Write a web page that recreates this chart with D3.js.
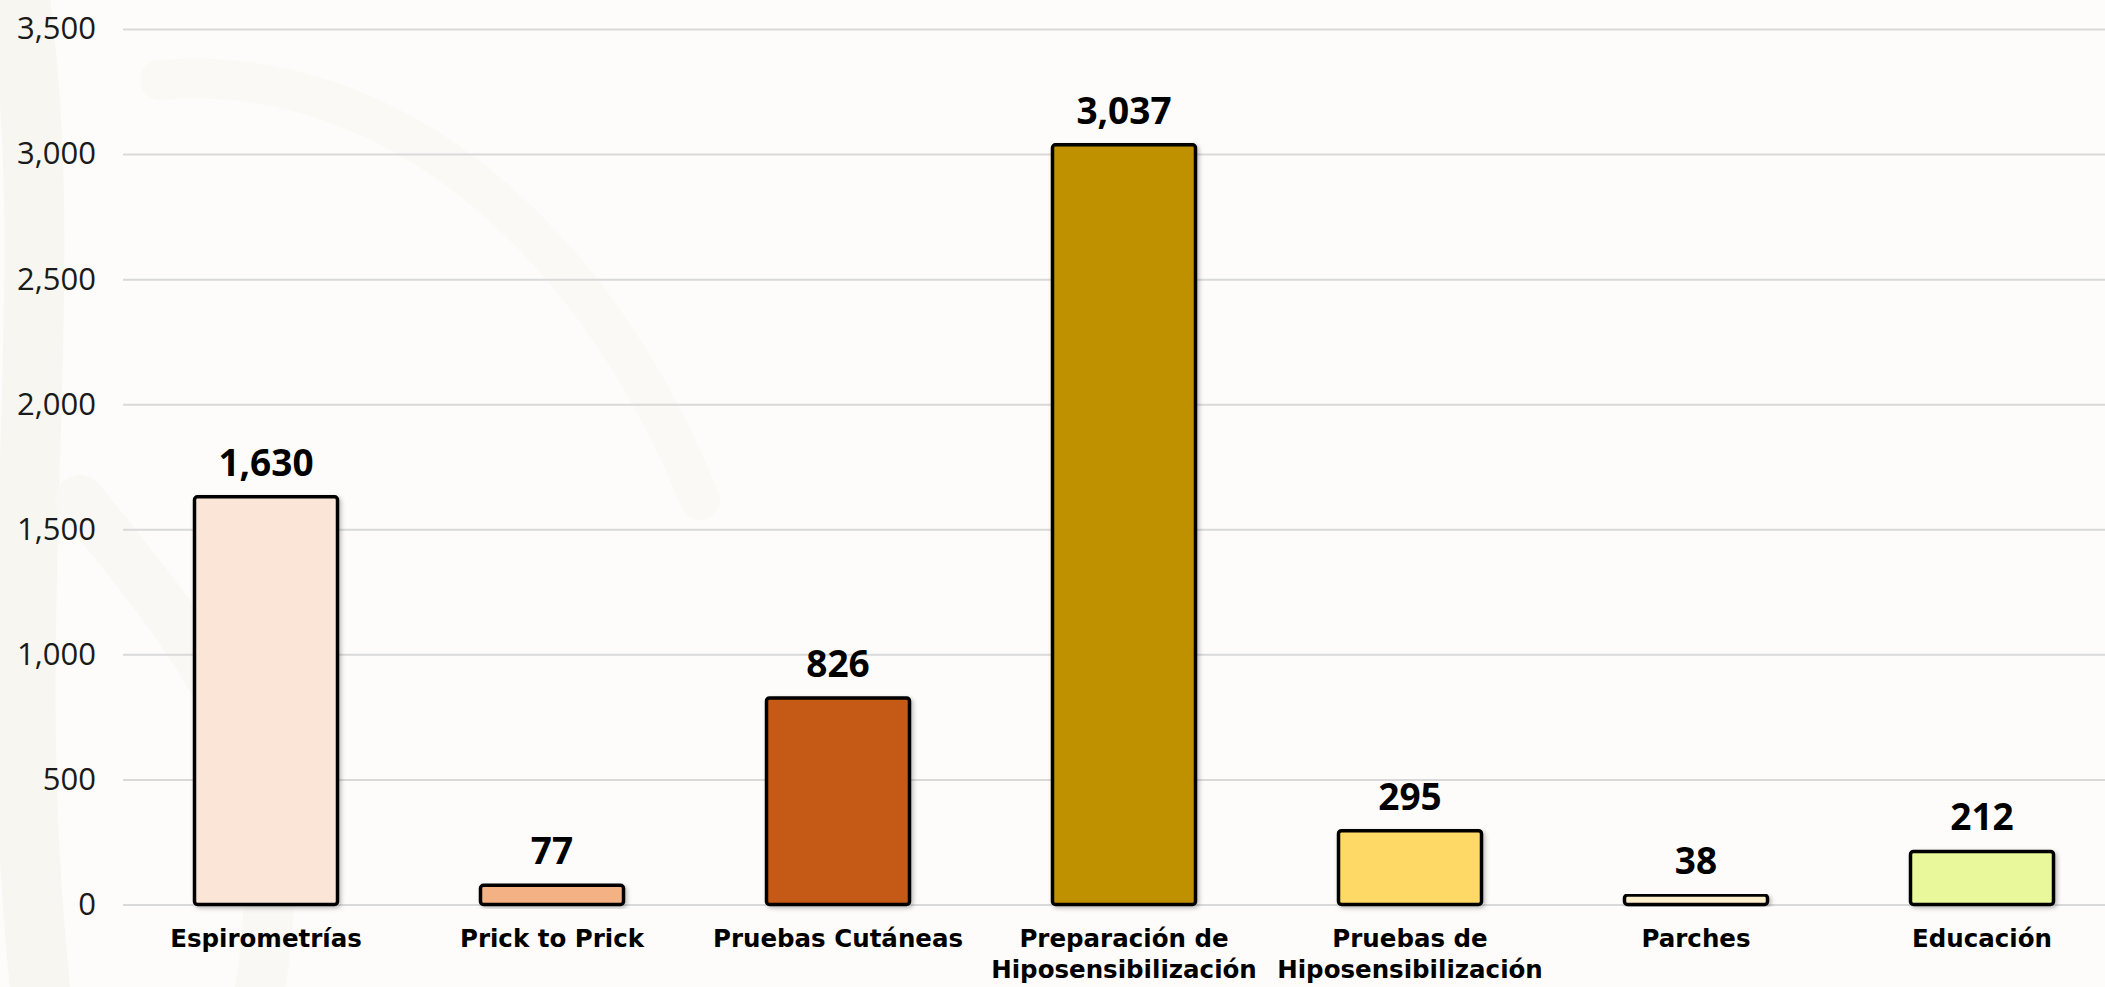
<!DOCTYPE html>
<html><head><meta charset="utf-8">
<script src="https://cdn.jsdelivr.net/npm/d3@7"></script>
<style>
html,body{margin:0;padding:0;background:#fbfaf7;}
svg{display:block;}
</style></head>
<body>
<svg id="chart" width="2105" height="987"></svg>
<script>
const categories = [["Espirometrías"],["Prick to Prick"],["Pruebas Cutáneas"],["Preparación de","Hiposensibilización"],["Pruebas de","Hiposensibilización"],["Parches"],["Educación"]];
const values = [1630, 77, 826, 3037, 295, 38, 212];
const colors = ["#fae5d7","#f4b183","#c55a13","#bf9000","#ffd966","#fff0cc","#e9f89a"];
const yTicks = [0, 500, 1000, 1500, 2000, 2500, 3000, 3500];

const W = 2105, H = 987;
const svg = d3.select("#chart");

// background with faint watermark shapes
svg.append("rect").attr("width", W).attr("height", H).attr("fill", "#fdfcfa");
const deco = svg.append("g").attr("fill", "none").attr("stroke-linecap","round");
deco.append("path").attr("d","M20,0 C60,300 0,600 40,987").attr("stroke-width",60).attr("stroke","#f8f6f1");
deco.append("path").attr("d","M160,80 C400,60 600,250 700,500").attr("stroke-width",40).attr("stroke","#fbf9f5");
deco.append("path").attr("d","M80,500 C200,650 300,760 260,987").attr("stroke-width",50).attr("stroke","#faf8f4");

const x = d3.scaleBand().domain(d3.range(categories.length)).range([123, 2125]).paddingInner(0.5).paddingOuter(0.25);
const y = d3.scaleLinear().domain([0, 3500]).range([904.5, 29]);

// gridlines
const yAxis = d3.axisLeft(y).tickValues(yTicks).tickSize(-(W - 123)).tickPadding(27).tickFormat(d3.format(","));
const gy = svg.append("g").attr("transform", "translate(123,0)").call(yAxis);
gy.select(".domain").remove();
gy.selectAll(".tick line").attr("stroke", "#d9d9d9").attr("stroke-width", 2);
gy.selectAll(".tick text").attr("fill", "#1a1a1a")
  .style("font-family", "'Open Sans', 'DejaVu Sans', sans-serif").style("font-weight", "400").style("font-size", "31px");

// shadow filter
const defs = svg.append("defs");
const f = defs.append("filter").attr("id","sh").attr("x","-10%").attr("y","-10%").attr("width","130%").attr("height","130%");
f.append("feDropShadow").attr("dx",2).attr("dy",2).attr("stdDeviation",2).attr("flood-color","#000").attr("flood-opacity",0.25);

// bars
svg.append("g").selectAll("rect").data(values).join("rect")
  .attr("x", (d,i) => x(i))
  .attr("y", d => y(d))
  .attr("width", x.bandwidth())
  .attr("height", d => y(0) - y(d))
  .attr("rx", 3)
  .attr("fill", (d,i) => colors[i])
  .attr("stroke", "#000").attr("stroke-width", 3.5)
  .attr("filter", "url(#sh)");

// value labels
svg.append("g").selectAll("text").data(values).join("text")
  .attr("x", (d,i) => x(i) + x.bandwidth()/2)
  .attr("y", d => y(d) - 21)
  .attr("text-anchor", "middle")
  .style("font-family", "'Open Sans', sans-serif").style("font-weight", "700").style("font-size", "37px")
  .attr("fill", "#000")
  .text(d => d3.format(",")(d));

// category labels
const cat = svg.append("g").selectAll("text").data(categories).join("text")
  .attr("x", (d,i) => x(i) + x.bandwidth()/2)
  .attr("y", 947)
  .attr("text-anchor", "middle")
  .style("font-family", "'DejaVu Sans', sans-serif").style("font-weight", "700").style("font-size", "24.5px")
  .attr("fill", "#000");
cat.selectAll("tspan").data(d => d).join("tspan")
  .attr("x", function(){ return this.parentNode.getAttribute("x"); })
  .attr("dy", (d,i) => i === 0 ? 0 : 31)
  .text(d => d);
</script>
</body></html>
